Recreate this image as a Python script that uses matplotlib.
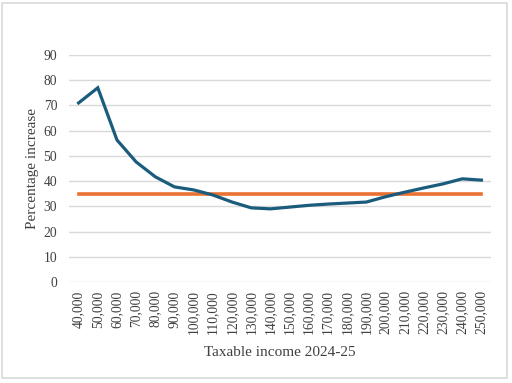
import numpy as np
import matplotlib.pyplot as plt
from matplotlib.patches import Rectangle

plt.rcParams['font.family'] = ['Liberation Serif', 'DejaVu Serif']

incomes = ['40,000', '50,000', '60,000', '70,000', '80,000', '90,000', '100,000',
           '110,000', '120,000', '130,000', '140,000', '150,000', '160,000',
           '170,000', '180,000', '190,000', '200,000', '210,000', '220,000',
           '230,000', '240,000', '250,000']
pct_increase = [71.0, 77.0, 56.3, 47.6, 41.7, 37.7, 36.5, 34.5, 31.7, 29.4, 29.0,
                29.7, 30.4, 30.9, 31.3, 31.7, 33.8, 35.6, 37.3, 38.9, 40.9, 40.4]
average = [35.0] * len(incomes)

text_col = '#404040'

fig = plt.figure(figsize=(5.12, 3.83), dpi=100)
fig.patches.append(Rectangle((0.004, 0.013), 0.986, 0.978, transform=fig.transFigure,
                             fill=False, edgecolor='#d9d9d9', linewidth=1.2))
ax = fig.add_axes([0.1348, 0.2637, 0.8242, 0.5927])

x = np.arange(len(incomes))
ax.plot(x, pct_increase, color='#1b5c7c', linewidth=2.3, solid_joinstyle='miter', zorder=3)
ax.plot(x, average, color='#e97132', linewidth=2.6, zorder=2)

ax.set_xlim(-0.5, len(incomes) - 0.5)
ax.set_ylim(0, 90)
ax.set_yticks(range(0, 91, 10))
ax.set_xticks(x)
ax.set_xticklabels(incomes, rotation=90)
ax.grid(axis='y', color='#d9d9d9', linewidth=1)
ax.set_axisbelow(True)
for s in ax.spines.values():
    s.set_visible(False)
ax.tick_params(length=0, colors=text_col, labelsize=9.8)
ax.tick_params(axis='y', pad=8.5)
ax.tick_params(axis='x', pad=6)
ax.set_xlabel('Taxable income 2024-25', color=text_col, fontsize=11, labelpad=8)
ax.set_ylabel('Percentage increase', color=text_col, fontsize=11, labelpad=3)

fig.savefig('out.png', dpi=100)
